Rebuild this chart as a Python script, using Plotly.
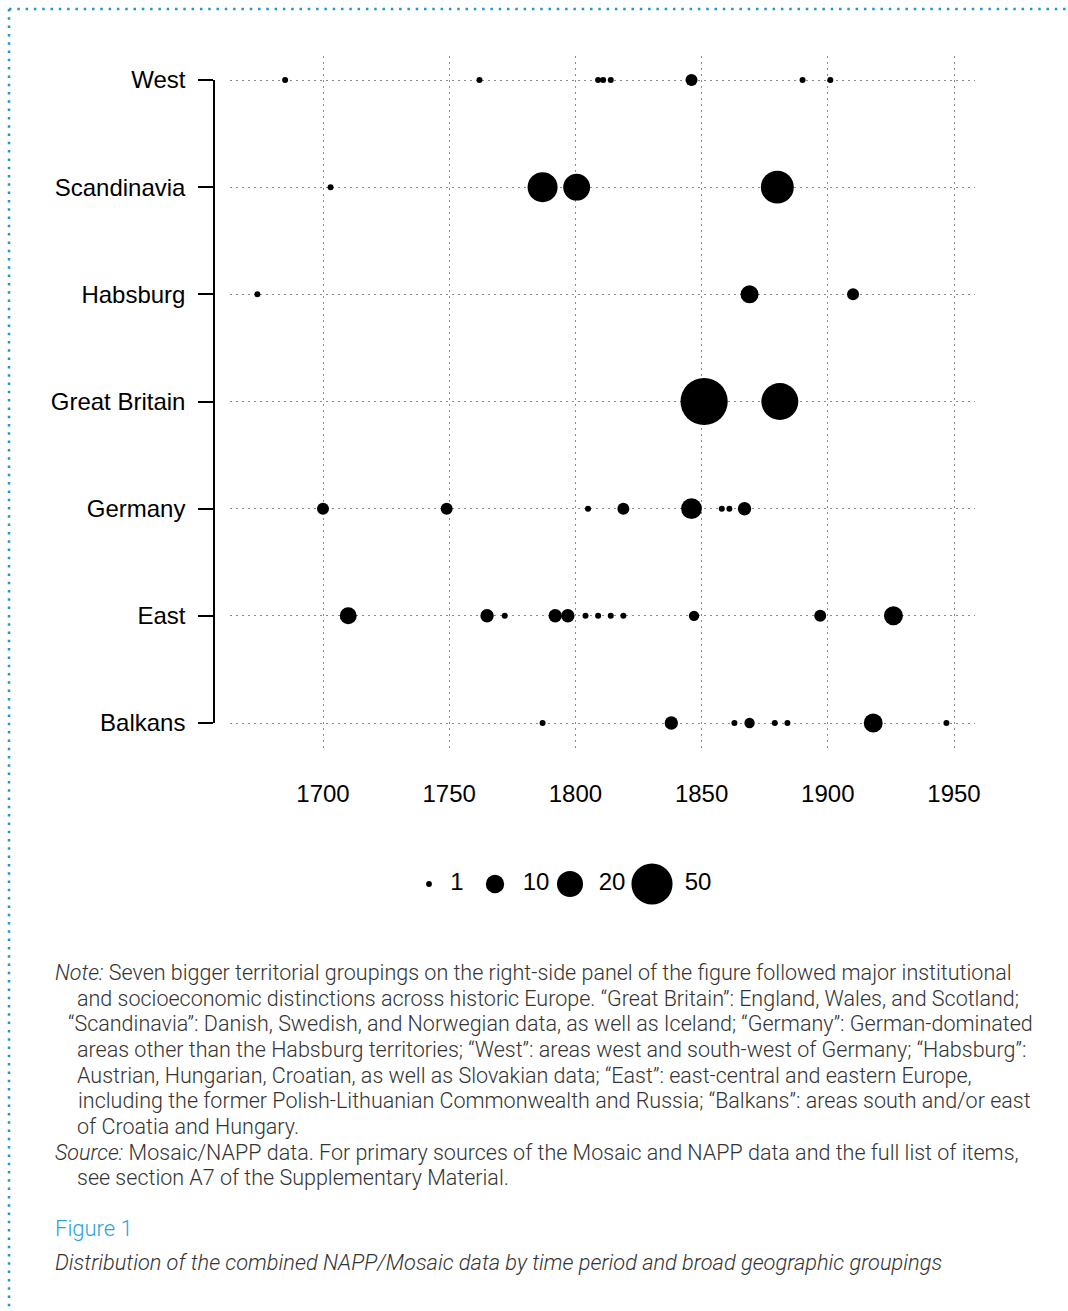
import numpy as np
import plotly.graph_objects as go

W, H = 1068, 1311

# ---------------- data ----------------
regions = ["Balkans", "East", "Germany", "Great Britain", "Habsburg", "Scandinavia", "West"]

west_years = [1685, 1762, 1809, 1811, 1814, 1846, 1890, 1901]
west_counts = [1, 1, 1, 1, 1, 4, 1, 1]

scand_years = [1703, 1787, 1800.5, 1880]
scand_counts = [1, 25, 20, 30]

habs_years = [1674, 1869, 1910]
habs_counts = [1, 9, 4]

gb_years = [1851, 1881]
gb_counts = [62, 38]

germany_years = [1700, 1749, 1805, 1819, 1846, 1858, 1861, 1867]
germany_counts = [4, 4, 1, 4, 12, 1, 1, 5]

east_years = [1710, 1765, 1772, 1792, 1797, 1804, 1809, 1814, 1819, 1847, 1897, 1926]
east_counts = [8, 5, 1, 5, 5, 1, 1, 1, 1, 3, 4, 10]

balkans_years = [1787, 1838, 1863, 1869, 1879, 1884, 1918, 1947]
balkans_counts = [1, 5, 1, 3, 1, 1, 10, 1]

x_ticks = [1700, 1750, 1800, 1850, 1900, 1950]
legend_counts = [1, 10, 20, 50]
legend_labels = ["1", "10", "20", "50"]

series = {
    "Balkans": (balkans_years, balkans_counts),
    "East": (east_years, east_counts),
    "Germany": (germany_years, germany_counts),
    "Great Britain": (gb_years, gb_counts),
    "Habsburg": (habs_years, habs_counts),
    "Scandinavia": (scand_years, scand_counts),
    "West": (west_years, west_counts),
}

K = 6.0  # px diameter for a count of 1 (area-proportional)


def px_x(p):
    return p / W


def px_y(p):
    return 1 - p / H


fig = go.Figure()

for i, name in enumerate(regions):
    yrs, cnt = series[name]
    fig.add_trace(go.Scatter(
        x=yrs, y=[i] * len(yrs), mode="markers",
        marker=dict(color="black", opacity=1, size=K * np.sqrt(np.array(cnt)), line=dict(width=0)),
        showlegend=False, hoverinfo="x+text", text=[str(c) for c in cnt],
        xaxis="x", yaxis="y",
    ))

# size legend (own small subplot)
leg_dot_pos = [429, 495, 570, 652]
leg_lab_pos = [457, 536, 612, 698]
fig.add_trace(go.Scatter(
    x=leg_dot_pos, y=[0] * 4, mode="markers",
    marker=dict(color="black", opacity=1, size=K * np.sqrt(np.array(legend_counts)) * 0.97, line=dict(width=0)),
    showlegend=False, hoverinfo="skip", xaxis="x2", yaxis="y2",
))
fig.add_trace(go.Scatter(
    x=leg_lab_pos, y=[0] * 4, mode="text", text=legend_labels,
    textfont=dict(size=24, color="black", family="Liberation Sans, Arial"),
    textposition="middle center",
    showlegend=False, hoverinfo="skip", xaxis="x2", yaxis="y2",
))

# category axis carrier (own narrow subplot so that the axis line spans only the rows)
fig.add_trace(go.Scatter(x=[0], y=[0], mode="markers", marker=dict(opacity=0),
                         showlegend=False, hoverinfo="skip", xaxis="x3", yaxis="y3"))

x_left_px, x_right_px = 230, 975
yr_per_px = 250 / (954 - 323)
x0 = 1700 - (323 - x_left_px) * yr_per_px
x1 = 1950 + (x_right_px - 954) * yr_per_px
row_px = (723 - 80) / 6
y_lo = -(750 - 723) / row_px
y_hi = 6 + (80 - 56) / row_px

fig.update_layout(
    width=W, height=H,
    margin=dict(l=0, r=0, t=0, b=0, autoexpand=False),
    paper_bgcolor="white", plot_bgcolor="white",
    showlegend=False,
    font=dict(family="Liberation Sans, Arial", size=24, color="black"),
    xaxis=dict(
        domain=[px_x(x_left_px), px_x(x_right_px)], range=[x0, x1],
        tickvals=x_ticks, ticktext=[str(t) for t in x_ticks],
        showgrid=True, gridcolor="#8a8a8a", gridwidth=1, griddash="2px,4px",
        zeroline=False, showline=False, automargin=False,
        ticks="outside", ticklen=22, tickcolor="rgba(0,0,0,0)",
        tickfont=dict(size=24, color="black"), anchor="y",
    ),
    yaxis=dict(
        domain=[px_y(750), px_y(56)], range=[y_lo, y_hi],
        tickvals=list(range(7)), showticklabels=False, automargin=False,
        showgrid=True, gridcolor="#8a8a8a", gridwidth=1, griddash="2px,4px",
        zeroline=False, showline=False, ticks="", anchor="x",
    ),
    xaxis2=dict(domain=[px_x(380), px_x(740)], range=[380, 740], visible=False, anchor="y2"),
    yaxis2=dict(domain=[px_y(911), px_y(857)], range=[-1, 1], visible=False, anchor="x2"),
    xaxis3=dict(domain=[px_x(215), px_x(216)], range=[0, 1], visible=False, anchor="y3"),
    yaxis3=dict(
        domain=[px_y(723), px_y(80)], range=[0, 6], anchor="x3", side="left",
        tickvals=list(range(7)), ticktext=regions, automargin=False,
        showline=True, linecolor="black", linewidth=1.5,
        ticks="outside", ticklen=15, tickwidth=1.5, tickcolor="black",
        showgrid=False, zeroline=False, ticklabelstandoff=8,
        tickfont=dict(size=24, color="black"),
    ),
)

# dotted frame of the page (top and left)
frame_col = "#1e98d2"
fig.add_shape(type="line", xref="paper", yref="paper", x0=px_x(9), x1=px_x(1068), y0=px_y(9), y1=px_y(9),
              line=dict(color=frame_col, width=2.5, dash="2.5px,5.8px"))
fig.add_shape(type="line", xref="paper", yref="paper", x0=px_x(9), x1=px_x(9), y0=px_y(9), y1=px_y(1311),
              line=dict(color=frame_col, width=2.5, dash="2.5px,5.8px"))

note_lines = [
    (53, 972, "<i>Note:</i> Seven bigger territorial groupings on the right-side panel of the figure followed major institutional"),
    (75, 998, "and socioeconomic distinctions across historic Europe. “Great Britain”: England, Wales, and Scotland;"),
    (66, 1023, "“Scandinavia”: Danish, Swedish, and Norwegian data, as well as Iceland; “Germany”: German-dominated"),
    (75, 1049, "areas other than the Habsburg territories; “West”: areas west and south-west of Germany; “Habsburg”:"),
    (75, 1075, "Austrian, Hungarian, Croatian, as well as Slovakian data; “East”: east-central and eastern Europe,"),
    (76, 1100, "including the former Polish-Lithuanian Commonwealth and Russia; “Balkans”: areas south and/or east"),
    (75, 1126, "of Croatia and Hungary."),
    (53, 1152, "<i>Source:</i> Mosaic/NAPP data. For primary sources of the Mosaic and NAPP data and the full list of items,"),
    (75, 1177, "see section A7 of the Supplementary Material."),
]
note_font = dict(family="Roboto", size=21.5, color="#333333", weight=300)
for xp, yp, t in note_lines:
    fig.add_annotation(text=t, xref="paper", yref="paper", x=px_x(xp), y=px_y(yp),
                       xanchor="left", yanchor="middle", showarrow=False, font=note_font)

fig.add_annotation(text="Figure 1", xref="paper", yref="paper", x=px_x(53), y=px_y(1228),
                   xanchor="left", yanchor="middle", showarrow=False,
                   font=dict(family="Roboto", size=22, color="#2aa3dc", weight=300))
fig.add_annotation(text="<i>Distribution of the combined NAPP/Mosaic data by time period and broad geographic groupings</i>",
                   xref="paper", yref="paper", x=px_x(53), y=px_y(1262),
                   xanchor="left", yanchor="middle", showarrow=False,
                   font=dict(family="Roboto", size=21.8, color="#333333", weight=300))

fig.write_html(
    "out.html",
    config={"displayModeBar": False},
    post_script=(
        "document.documentElement.style.margin='0';document.body.style.margin='0';"
        "document.body.style.padding='0';document.documentElement.style.overflow='hidden';"
        "var gd=document.getElementById('{plot_id}');"
        "gd.style.position='fixed';gd.style.left='0px';gd.style.top='0px';"
    ),
)
